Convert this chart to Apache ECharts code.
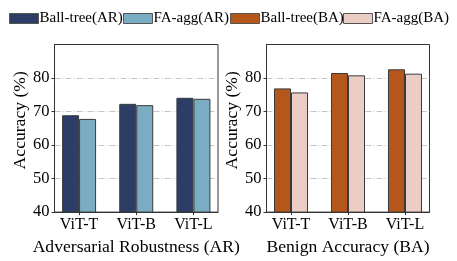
<!DOCTYPE html>
<html>
<head>
<meta charset="utf-8">
<script src="https://cdn.jsdelivr.net/npm/echarts@6/dist/echarts.min.js"></script>
<style>html,body{margin:0;padding:0;background:#fff}#c{width:457px;height:261px}</style>
</head>
<body>
<div id="c"></div>
<script>
const categories = ['ViT-T', 'ViT-B', 'ViT-L'];
const ballTreeAR = [68.9, 72.3, 74.1];
const faAggAR = [67.8, 71.9, 73.8];
const ballTreeBA = [76.9, 81.5, 82.6];
const faAggBA = [75.7, 80.8, 81.3];
const yTicks = [40, 50, 60, 70, 80];
const seriesNames = ['Ball-tree(AR)', 'FA-agg(AR)', 'Ball-tree(BA)', 'FA-agg(BA)'];
const colors = ['#2c3e66', '#7badc2', '#b5561b', '#ebcdc6'];

const FONT = "'Liberation Serif', 'Times New Roman', serif";
const catIdx = categories.map((c, i) => i);
const toData = arr => arr.map((v, i) => [i, v]);

function xAxis(gridIndex, name) {
  return {
    type: 'value', gridIndex, min: -0.43, max: 2.43,
    name, nameLocation: 'middle', nameGap: 17,
    nameTextStyle: {fontFamily: FONT, fontSize: 17.6, color: '#000'},
    axisLine: {show: true, onZero: false, lineStyle: {color: '#333', width: 1}},
    axisTick: {show: true, length: 3, inside: false, customValues: catIdx, lineStyle: {color: '#333'}},
    axisLabel: {customValues: catIdx, formatter: v => categories[Math.round(v)] || '', margin: 5,
      fontFamily: FONT, fontSize: 16, color: '#000'},
    splitLine: {show: false}
  };
}
function yAxis(gridIndex, gap) {
  return {
    type: 'value', gridIndex, min: 40, max: 90, interval: 10,
    name: 'Accuracy (%)', nameLocation: 'middle', nameGap: gap, nameRotate: 90,
    nameTextStyle: {fontFamily: FONT, fontSize: 17.6, color: '#000', padding: [0, 0, 0, 16]},
    axisLine: {show: true, onZero: false, lineStyle: {color: '#333', width: 1}},
    axisTick: {show: true, length: 3, inside: false, customValues: yTicks, lineStyle: {color: '#333'}},
    axisLabel: {customValues: yTicks, margin: 5, fontFamily: FONT, fontSize: 16.5, color: '#000'},
    splitLine: {show: true, lineStyle: {color: '#c4c4c4', width: 1, type: [6, 2, 1, 2]}}
  };
}
function bar(name, data, color, idx) {
  return {
    type: 'bar', name, data: toData(data), xAxisIndex: idx, yAxisIndex: idx,
    barWidth: 17, barGap: '0%',
    itemStyle: {color, borderColor: '#3a3a3a', borderWidth: 1},
    emphasis: {disabled: true}
  };
}
function legend(i, left) {
  return {
    data: [{name: seriesNames[i], icon: 'rect'}], left, top: 11, padding: 0,
    itemWidth: 29, itemHeight: 10, itemGap: 0,
    textStyle: {fontFamily: FONT, fontSize: 15, color: '#000', padding: [0, 0, 0, -4]},
    itemStyle: {borderColor: '#555', borderWidth: 1}, selectedMode: false
  };
}

const chart = echarts.init(document.getElementById('c'), null, {renderer: 'canvas'});
chart.setOption({
  animation: false,
  textStyle: {fontFamily: FONT},
  legend: [legend(0, 9), legend(1, 123), legend(2, 230), legend(3, 343)],
  grid: [
    {left: 54.5, top: 44.5, width: 163.5, height: 168.5, show: true, borderColor: '#333', borderWidth: 1, containLabel: false},
    {left: 266.5, top: 44.5, width: 163, height: 168.5, show: true, borderColor: '#333', borderWidth: 1, containLabel: false}
  ],
  xAxis: [xAxis(0, 'Adversarial Robustness (AR)'), xAxis(1, 'Benign Accuracy (BA)')],
  yAxis: [yAxis(0, 25), yAxis(1, 23)],
  series: [
    bar(seriesNames[0], ballTreeAR, colors[0], 0),
    bar(seriesNames[1], faAggAR, colors[1], 0),
    bar(seriesNames[2], ballTreeBA, colors[2], 1),
    bar(seriesNames[3], faAggBA, colors[3], 1)
  ]
});
</script>
</body>
</html>
